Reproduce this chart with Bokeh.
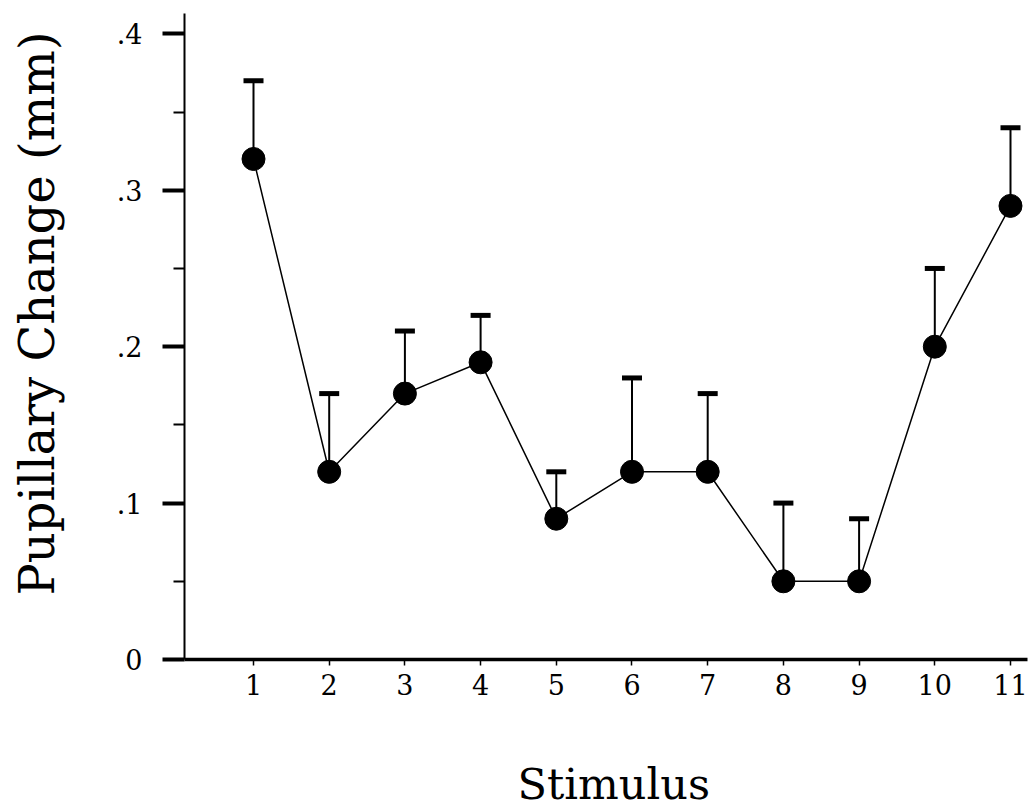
from bokeh.plotting import figure
from bokeh.models import FixedTicker, CustomJSTickFormatter, Title, Range1d, ColumnDataSource
from bokeh.embed import file_html
from bokeh.resources import INLINE

stimulus = [1, 2, 3, 4, 5, 6, 7, 8, 9, 10, 11]
change = [0.32, 0.12, 0.17, 0.19, 0.09, 0.12, 0.12, 0.05, 0.05, 0.20, 0.29]
upper = [0.37, 0.17, 0.21, 0.22, 0.12, 0.18, 0.17, 0.10, 0.09, 0.25, 0.34]
y_ticks = [0, 0.1, 0.2, 0.3, 0.4]
y_minor = [0.05, 0.15, 0.25, 0.35]
x_title = "Stimulus"
y_title = "Pupillary Change (mm)"

src = ColumnDataSource(dict(x=stimulus, y=change, up=upper))

p = figure(width=1030, height=812, output_backend="svg", toolbar_location=None,
           x_range=Range1d(0.0885, 11.2246), y_range=Range1d(0, 0.413),
           min_border_left=184, min_border_right=3, min_border_top=13, min_border_bottom=153)
p.outline_line_color = None
p.grid.visible = False
p.background_fill_color = "white"
p.border_fill_color = "white"

p.segment(x0="x", y0="y", x1="x", y1="up", source=src, line_color="black", line_width=2)
p.scatter(x="x", y="up", source=src, marker="dash", size=20, line_color="black", line_width=5)
p.line(x="x", y="y", source=src, line_color="black", line_width=1.5)
p.scatter(x="x", y="y", source=src, marker="circle", size=23, fill_color="black", line_color="black")

font = "DejaVu Serif"
# x axis
xa = p.xaxis[0]
xa.ticker = FixedTicker(ticks=stimulus)
xa.axis_line_width = 3.5
xa.major_tick_out = 6
xa.major_tick_in = 0
xa.major_tick_line_width = 1.5
xa.minor_tick_line_color = None
xa.major_label_standoff = 8
xa.major_label_text_font = font
xa.major_label_text_font_size = "27px"
xa.major_label_text_color = "black"
xa.axis_label = "\u00a0"            # spacer
xa.axis_label_text_font_size = "2px"
xa.axis_label_standoff = 52

# y axis
ya = p.yaxis[0]
ya.ticker = FixedTicker(ticks=y_ticks, minor_ticks=y_minor)
ya.formatter = CustomJSTickFormatter(code="return tick == 0 ? '0' : tick.toFixed(1).replace(/^0/, '');")
ya.axis_line_width = 2
ya.major_tick_out = 22
ya.major_tick_in = 0
ya.major_tick_line_width = 4
ya.minor_tick_out = 11
ya.minor_tick_in = 0
ya.minor_tick_line_width = 2
ya.major_label_standoff = 20
ya.major_label_text_font = font
ya.major_label_text_font_size = "27px"
ya.major_label_text_color = "black"
ya.axis_label = "\u00a0"            # spacer
ya.axis_label_text_font_size = "2px"
ya.axis_label_standoff = 43

ytitle = Title(text=y_title, align="left", text_font=font,
               text_font_size="48px", text_font_style="normal", text_color="black",
               offset=64, standoff=2)
p.add_layout(ytitle, "left")
xtitle = Title(text=x_title, align="left", text_font=font,
               text_font_size="43px", text_font_style="normal", text_color="black",
               offset=333, standoff=4)
p.add_layout(xtitle, "below")

open("out.html", "w").write(file_html(p, INLINE))
